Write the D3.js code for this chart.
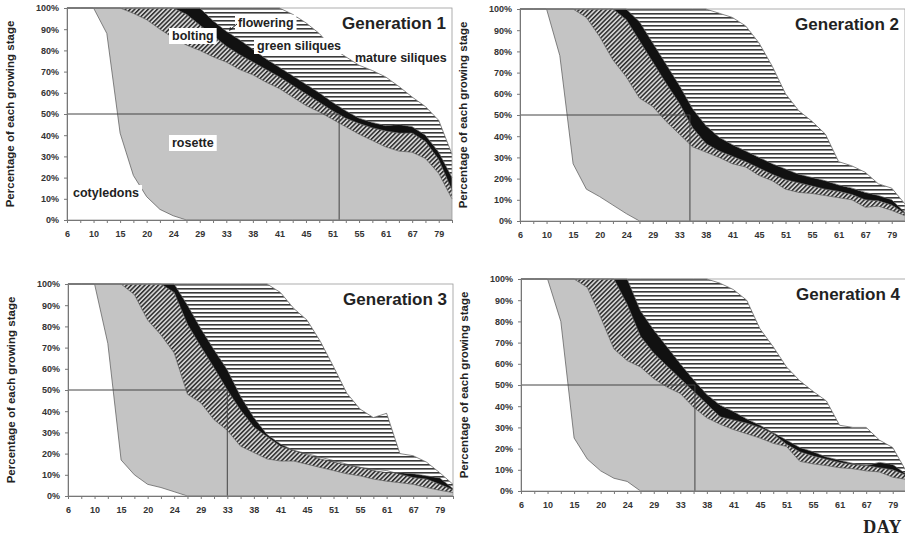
<!DOCTYPE html>
<html>
<head>
<meta charset="utf-8">
<script src="https://cdn.jsdelivr.net/npm/d3@7"></script>
<style>
  body { margin: 0; background: #fff; }
  svg text { font-family: "Liberation Sans", Arial, sans-serif; }
</style>
</head>
<body>
<div id="chart"></div>
<script>
// observation days (category axis), only every other one is labelled
const days = [6, 8, 10, 13, 15, 17, 20, 22, 24, 27, 29, 31, 33, 36, 38, 40, 41, 43, 45, 48, 51, 53, 55, 58, 61, 64, 67, 73, 79, 82];
const labelDays = [6, 10, 15, 20, 24, 29, 33, 38, 41, 45, 51, 55, 61, 67, 79];
const yTicks = [0, 10, 20, 30, 40, 50, 60, 70, 80, 90, 100];
const stages = ['cotyledons', 'rosette', 'bolting', 'flowering', 'green siliques', 'mature siliques'];
const generations = ['Generation 1', 'Generation 2', 'Generation 3', 'Generation 4'];

// cumulative % of plants (upper edge of each stage), per generation
const g1Cot = [100, 100, 100, 88, 41, 21, 11, 5, 2, 0, 0, 0, 0, 0, 0, 0, 0, 0, 0, 0, 0, 0, 0, 0, 0, 0, 0, 0, 0, 0];
const g1Ros = [100, 100, 100, 100, 100, 97.5, 94.5, 90, 86, 82.5, 80, 77, 74.5, 71, 68.5, 65, 62, 58, 54, 51, 47.5, 44, 40.5, 37.5, 34.5, 32.5, 32, 29, 22, 10];
const g1Bolt = [100, 100, 100, 100, 100, 100, 100, 100, 100, 97, 92, 87, 82, 78, 74.5, 71, 67.5, 63.5, 59.5, 55.5, 51.5, 48, 45.5, 43.5, 42, 41, 41, 37, 28.5, 14];
const g1Flow = [100, 100, 100, 100, 100, 100, 100, 100, 100, 100, 100, 94, 89, 85, 80.5, 76, 72, 68, 64, 60, 55.5, 51.5, 48, 46, 44.5, 45, 44, 40, 32, 20];
const g1Green = [100, 100, 100, 100, 100, 100, 100, 100, 100, 100, 100, 100, 100, 100, 100, 100, 100, 97, 93, 88, 81, 77, 73, 70.5, 67.5, 63, 58, 53.5, 47, 31];

const g2Cot = [100, 100, 100, 78, 27, 15, 11.5, 7.5, 3.5, 0, 0, 0, 0, 0, 0, 0, 0, 0, 0, 0, 0, 0, 0, 0, 0, 0, 0, 0, 0, 0];
const g2Ros = [100, 100, 100, 100, 100, 96, 87, 76, 68, 58, 54, 47, 41, 35, 32.5, 30, 27, 25.5, 21.5, 19, 15, 13.5, 13, 12, 11, 10, 6.5, 7, 5, 2.5];
const g2Bolt = [100, 100, 100, 100, 100, 100, 100, 100, 95, 85, 75, 65, 55.5, 44, 36.5, 33, 30.5, 28, 25, 22, 19.5, 18, 16.5, 15, 14, 12.5, 10, 9.5, 7.5, 3.5];
const g2Flow = [100, 100, 100, 100, 100, 100, 100, 100, 100, 94, 84, 74, 64, 53, 45, 39.5, 36, 33, 30, 27, 24.5, 22, 20.5, 19, 17, 15.5, 13.5, 12, 10, 4];
const g2Green = [100, 100, 100, 100, 100, 100, 100, 100, 100, 100, 100, 100, 100, 100, 100, 98, 96, 92, 84, 73, 60, 52, 47, 41, 28, 26, 23, 17.5, 15.5, 8];

const g3Cot = [100, 100, 100, 72, 17, 10, 5.5, 4, 2, 0, 0, 0, 0, 0, 0, 0, 0, 0, 0, 0, 0, 0, 0, 0, 0, 0, 0, 0, 0, 0];
const g3Ros = [100, 100, 100, 100, 100, 95, 83, 76, 67.5, 48, 44, 36, 31, 23.5, 20.5, 17.5, 16.5, 16.5, 15, 13.5, 12, 10.5, 9.5, 8, 7, 6.3, 5.5, 4, 2.7, 1.6];
const g3Bolt = [100, 100, 100, 100, 100, 100, 100, 100, 96, 81, 70.5, 60.5, 50, 40.5, 32.5, 28, 23.5, 21.5, 20, 18.3, 16.7, 15, 13.5, 12.7, 12, 10.3, 8.7, 8, 5.5, 3];
const g3Flow = [100, 100, 100, 100, 100, 100, 100, 100, 100, 90, 79, 69, 59.5, 47, 37, 29, 24.5, 21.5, 19.5, 17.5, 16, 14.5, 13.5, 12, 11, 11, 10.5, 9.5, 8.5, 3.5];
const g3Green = [100, 100, 100, 100, 100, 100, 100, 100, 100, 100, 100, 100, 100, 100, 100, 100, 96, 88.5, 83, 73, 61, 48.5, 41, 37, 39, 20, 19, 16, 11, 5.5];

const g4Cot = [100, 100, 100, 80, 25, 15, 9.5, 6, 4.5, 0, 0, 0, 0, 0, 0, 0, 0, 0, 0, 0, 0, 0, 0, 0, 0, 0, 0, 0, 0, 0];
const g4Ros = [100, 100, 100, 100, 100, 96, 82, 67, 61.5, 58.5, 53, 49, 46, 39.5, 34.5, 31.5, 29, 27, 25, 22.5, 21, 14, 12.8, 12, 11, 10.5, 9.5, 9, 6.5, 5.5];
const g4Bolt = [100, 100, 100, 100, 100, 100, 100, 100, 88, 73, 65, 59, 53, 47, 41, 35, 33.5, 32, 30, 27, 22, 18.5, 16.5, 15, 13.5, 12.5, 12, 11, 10, 7.5];
const g4Flow = [100, 100, 100, 100, 100, 100, 100, 100, 100, 85, 76, 68, 60, 52.5, 45.5, 40.5, 37.5, 34, 31, 27.5, 24, 20.5, 18.5, 16, 14.5, 13, 12, 13.5, 12.5, 8];
const g4Green = [100, 100, 100, 100, 100, 100, 100, 100, 100, 100, 100, 100, 100, 100, 100, 98, 95, 90, 76.5, 68, 58.5, 52, 47, 42.5, 31, 30, 30, 24, 20.5, 9.5];

// day at which half of the plants had started flowering
const medianDays = [52, 35.4, 33, 36.2];

const boundsByGen = [
  [g1Cot, g1Ros, g1Bolt, g1Flow, g1Green],
  [g2Cot, g2Ros, g2Bolt, g2Flow, g2Green],
  [g3Cot, g3Ros, g3Bolt, g3Flow, g3Green],
  [g4Cot, g4Ros, g4Bolt, g4Flow, g4Green],
];

// layout
const pw = 385;
const ph = 212;
const origins = [[67, 8], [520, 9], [68, 284], [521, 279]];

const svg = d3
  .select('#chart')
  .append('svg')
  .attr('width', 905)
  .attr('height', 536);

// fill patterns
const defs = svg.append('defs');
const hatch = defs
  .append('pattern')
  .attr('id', 'hatch')
  .attr('patternUnits', 'userSpaceOnUse')
  .attr('width', 3.2)
  .attr('height', 3.2)
  .attr('patternTransform', 'rotate(45)');
hatch.append('rect').attr('width', 3.2).attr('height', 3.2).attr('fill', '#d2d2d2');
hatch.append('rect').attr('width', 1.5).attr('height', 3.2).attr('fill', '#2e2e2e');

const stripes = defs
  .append('pattern')
  .attr('id', 'stripes')
  .attr('patternUnits', 'userSpaceOnUse')
  .attr('width', 10)
  .attr('height', 4);
stripes.append('rect').attr('width', 10).attr('height', 4).attr('fill', '#fff');
stripes.append('rect').attr('width', 10).attr('height', 1.6).attr('fill', '#3a3a3a');

const fills = ['#fff', '#c4c4c4', 'url(#hatch)', '#111', 'url(#stripes)', '#fff'];

// scales (category axis: every observation day equally spaced)
const x = d3
  .scaleLinear()
  .domain(days)
  .range(days.map((d, i) => (i * pw) / (days.length - 1)));
const y = d3.scaleLinear().domain([0, 100]).range([ph, 0]);

function drawPanel(k) {
  const g = svg
    .append('g')
    .attr('transform', 'translate(' + origins[k][0] + ',' + origins[k][1] + ')');

  const zeros = days.map(() => 0);
  const full = days.map(() => 100);
  const edges = [zeros].concat(boundsByGen[k], [full]);

  // stacked stage areas
  stages.forEach(function(s, j) {
    const area = d3
      .area()
      .x((d, i) => x(days[i]))
      .y0((d, i) => y(edges[j][i]))
      .y1((d, i) => y(edges[j + 1][i]));
    g.append('path')
      .datum(days)
      .attr('fill', fills[j])
      .attr('d', area);
  });

  // stage boundary lines
  boundsByGen[k].forEach(function(b) {
    const line = d3
      .line()
      .x((d, i) => x(days[i]))
      .y(d => y(d));
    g.append('path')
      .datum(b)
      .attr('fill', 'none')
      .attr('stroke', '#555')
      .attr('stroke-width', 0.7)
      .attr('d', line);
  });

  // 50% reference lines
  const md = medianDays[k];
  g.append('line')
    .attr('x1', 0)
    .attr('x2', x(md))
    .attr('y1', y(50))
    .attr('y2', y(50))
    .attr('stroke', '#444')
    .attr('stroke-width', 1);
  g.append('line')
    .attr('x1', x(md))
    .attr('x2', x(md))
    .attr('y1', y(50))
    .attr('y2', y(0))
    .attr('stroke', '#444')
    .attr('stroke-width', 1);

  // plot frame
  g.append('rect')
    .attr('width', pw)
    .attr('height', ph)
    .attr('fill', 'none')
    .attr('stroke', '#999')
    .attr('stroke-width', 0.8);

  // axes
  const xAxis = g
    .append('g')
    .attr('transform', 'translate(0,' + ph + ')')
    .call(
      d3
        .axisBottom(x)
        .tickValues(days)
        .tickSize(3)
        .tickPadding(8)
        .tickFormat(d => (labelDays.includes(d) ? d : '')),
    );
  const yAxis = g.append('g').call(
    d3
      .axisLeft(y)
      .tickValues(yTicks)
      .tickSize(3)
      .tickPadding(5)
      .tickFormat(d => d + '%'),
  );
  [xAxis, yAxis].forEach(function(a) {
    a.select('.domain').attr('stroke', '#777');
    a.selectAll('.tick line').attr('stroke', '#777');
    a.selectAll('.tick text')
      .attr('fill', '#333')
      .attr('font-size', '9px')
      .attr('font-weight', 'bold')
      .attr('font-family', '"Liberation Sans", Arial, sans-serif');
  });

  // y title
  g.append('text')
    .attr('transform', 'translate(-53,' + ph / 2 + ') rotate(-90)')
    .attr('text-anchor', 'middle')
    .attr('font-size', '11.5px')
    .attr('font-weight', 'bold')
    .attr('fill', '#222')
    .text('Percentage of each growing stage');

  // generation title
  g.append('text')
    .attr('x', pw - 6)
    .attr('y', 21)
    .attr('text-anchor', 'end')
    .attr('font-size', '17px')
    .attr('font-weight', 'bold')
    .attr('fill', '#222')
    .text(generations[k]);

  return g;
}

const panelGroups = generations.map((d, k) => drawPanel(k));

// stage labels on the first panel (plot-relative positions)
const stageLabels = [
  { text: 'flowering', x: 171, y: 19, box: true },
  { text: 'bolting', x: 105, y: 32, box: true },
  { text: 'green siliques', x: 190, y: 42, box: true },
  { text: 'mature siliques', x: 288, y: 54, box: false },
  { text: 'rosette', x: 105, y: 139, box: true },
  { text: 'cotyledons', x: 6, y: 189, box: true },
];
const g1 = panelGroups[0];
stageLabels.forEach(function(l) {
  const t = g1
    .append('text')
    .attr('x', l.x)
    .attr('y', l.y)
    .attr('font-size', '12.5px')
    .attr('font-weight', 'bold')
    .attr('fill', '#222')
    .text(l.text);
  if (l.box) {
    const bb = t.node().getBBox();
    g1.insert('rect', function() {
      return t.node();
    })
      .attr('x', bb.x - 3)
      .attr('y', bb.y - 1)
      .attr('width', bb.width + 6)
      .attr('height', bb.height + 2)
      .attr('fill', '#fff');
  }
});
// little arrow from "flowering" to the black band
g1.append('line')
  .attr('x1', 170)
  .attr('y1', 16)
  .attr('x2', 164)
  .attr('y2', 21)
  .attr('stroke', '#222')
  .attr('stroke-width', 1);
g1.append('path')
  .attr('d', 'M162,23 L163,19 L166,21 Z')
  .attr('fill', '#222');

// x axis caption
svg.append('text')
  .attr('x', 902)
  .attr('y', 533)
  .attr('text-anchor', 'end')
  .attr('font-family', '"Liberation Serif", "Times New Roman", serif')
  .style('font-family', '"Liberation Serif", "Times New Roman", serif')
  .attr('font-size', '18px')
  .attr('font-weight', 'bold')
  .attr('letter-spacing', '0.5px')
  .attr('fill', '#222')
  .text('DAY');
</script>
</body>
</html>
